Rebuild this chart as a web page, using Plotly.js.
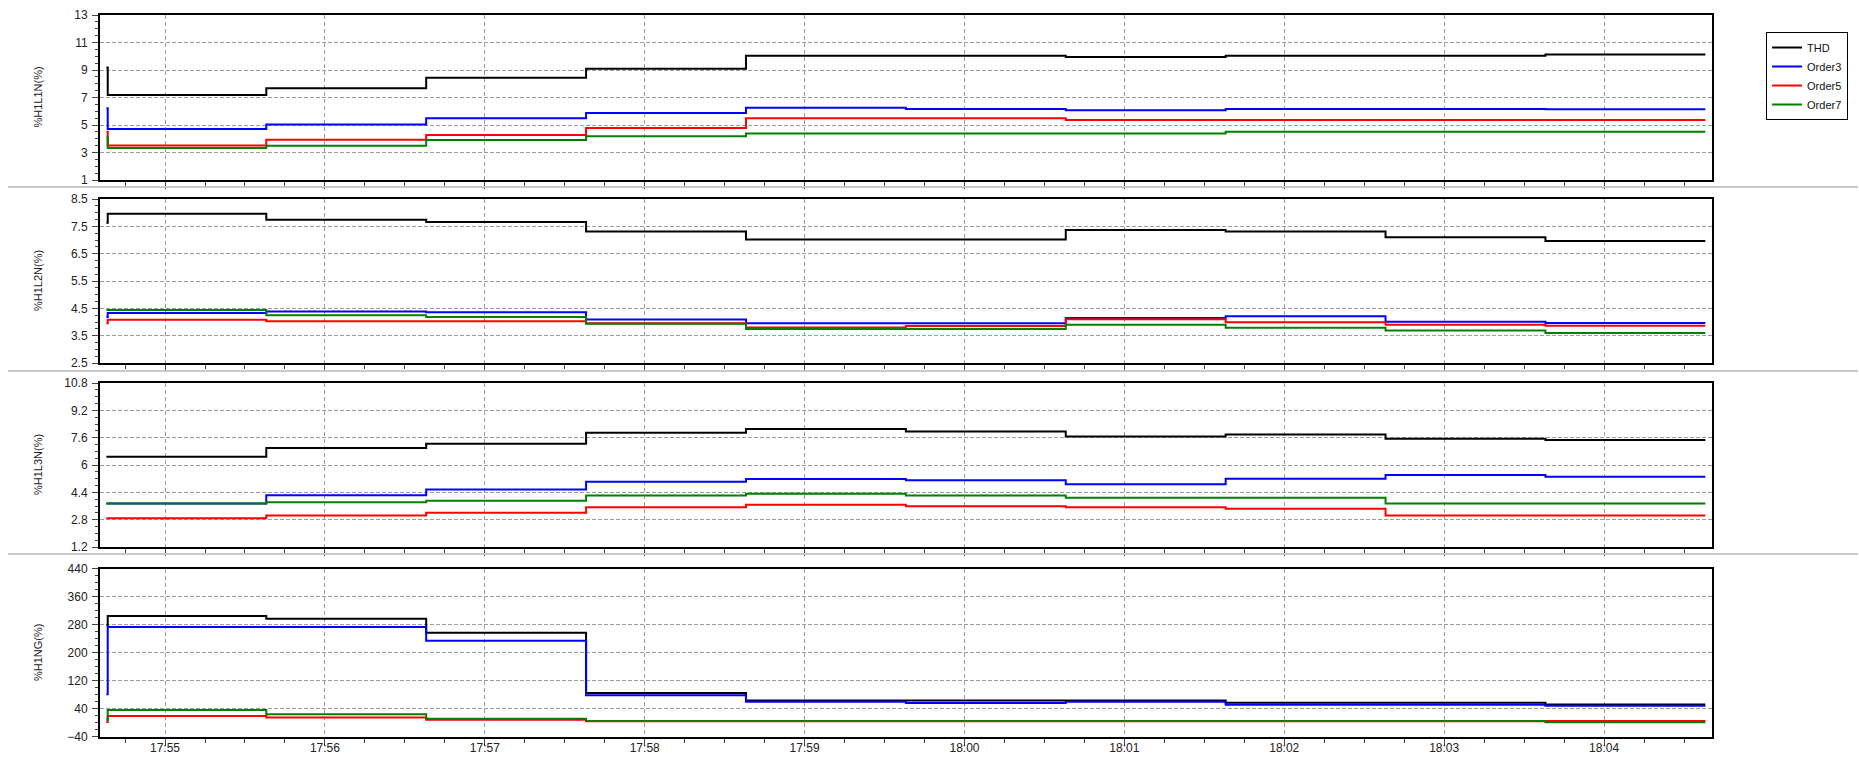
<!DOCTYPE html>
<html>
<head>
<meta charset="utf-8">
<script src="https://cdn.plot.ly/plotly-3.0.1.min.js"></script>
<style>html,body{margin:0;padding:0;background:#fff;}#chart{width:1859px;height:757px;}</style>
</head>
<body>
<div id="chart"></div>
<script>
// Sample timestamps (first two mark the initial jump at the start of the record)
const times = ['17:54:38', '17:54:38.5', '17:55:38', '17:56:38', '17:57:38', '17:58:38',
               '17:59:38', '18:00:38', '18:01:38', '18:02:38', '18:03:38', '18:04:38'];
const seriesNames = ['THD', 'Order3', 'Order5', 'Order7'];

// Panel 1: %H1L1N(%)
const l1nTHD    = [9.19, 7.18, 7.67, 8.44, 9.09, 10.03, 10.03, 9.94, 10.03, 10.03, 10.13, 10.13];
const l1nOrder3 = [6.22, 4.70, 5.03, 5.49, 5.88, 6.26, 6.17, 6.07, 6.17, 6.17, 6.14, 6.14];
const l1nOrder5 = [4.51, 3.51, 3.92, 4.28, 4.79, 5.49, 5.49, 5.37, 5.37, 5.37, 5.37, 5.37];
const l1nOrder7 = [4.10, 3.32, 3.49, 3.90, 4.19, 4.38, 4.38, 4.38, 4.50, 4.50, 4.50, 4.50];

// Panel 2: %H1L2N(%)
const l2nTHD    = [7.63, 7.96, 7.74, 7.66, 7.31, 7.02, 7.02, 7.37, 7.31, 7.10, 6.96, 6.96];
const l2nOrder3 = [4.18, 4.33, 4.38, 4.36, 4.09, 3.95, 3.95, 4.15, 4.21, 4.01, 3.96, 3.96];
const l2nOrder5 = [3.95, 4.08, 4.03, 4.03, 3.95, 3.80, 3.85, 4.10, 3.99, 3.90, 3.86, 3.86];
const l2nOrder7 = [4.44, 4.44, 4.25, 4.18, 3.94, 3.74, 3.74, 3.90, 3.79, 3.69, 3.60, 3.60];

// Panel 3: %H1L3N(%)
const l3nTHD    = [6.49, 6.49, 6.99, 7.25, 7.89, 8.10, 7.96, 7.67, 7.79, 7.54, 7.46, 7.46];
const l3nOrder3 = [3.75, 3.75, 4.23, 4.56, 5.02, 5.18, 5.10, 4.87, 5.20, 5.41, 5.31, 5.31];
const l3nOrder5 = [2.88, 2.88, 3.05, 3.21, 3.52, 3.67, 3.59, 3.53, 3.44, 3.05, 3.05, 3.05];
const l3nOrder7 = [3.75, 3.75, 3.82, 3.90, 4.21, 4.31, 4.21, 4.08, 4.08, 3.75, 3.75, 3.75];

// Panel 4: %H1NG(%)
const ngTHD    = [280, 306, 298, 258, 86, 64, 64, 64, 58, 58, 53, 53];
const ngOrder3 = [82, 274, 274, 235, 79, 61, 57, 61, 52, 52, 49, 49];
const ngOrder5 = [3, 20, 16, 9, 5, 5, 5, 5, 5, 5, 6, 6];
const ngOrder7 = [9, 37, 25, 12, 6, 6, 6, 6, 6, 6, 2, 2];

// Axis labels and tick settings
const panelTitles = ['%H1L1N(%)', '%H1L2N(%)', '%H1L3N(%)', '%H1NG(%)'];
const panelRanges = [[1, 13], [2.5, 8.5], [1.2, 10.8], [-40, 440]];
const panelDticks = [2, 1, 1.6, 80];
const panelMinor  = [0.5, 0.25, 0.4, 20];

const day = '2024-01-01 ';
const x = times.map(t => day + t);
const colors = ['#000000', '#0000ff', '#ff0000', '#008000'];
const panels = [
  [l1nTHD, l1nOrder3, l1nOrder5, l1nOrder7],
  [l2nTHD, l2nOrder3, l2nOrder5, l2nOrder7],
  [l3nTHD, l3nOrder3, l3nOrder5, l3nOrder7],
  [ngTHD, ngOrder3, ngOrder5, ngOrder7]
];

const traces = [];
panels.forEach((series, p) => {
  series.forEach((vals, s) => {
    traces.push({
      type: 'scatter', mode: 'lines',
      x: x, y: vals,
      name: seriesNames[s], legendgroup: seriesNames[s],
      showlegend: p === 0,
      line: {color: colors[s], width: 2, shape: 'hv'},
      xaxis: p === 0 ? 'x' : 'x' + (p + 1),
      yaxis: p === 0 ? 'y' : 'y' + (p + 1),
      hoverinfo: 'x+y+name'
    });
  });
});

// layout geometry (plot area 100..1713 x 15..737)
const domains = [[0.77147, 1.0], [0.51801, 0.74515], [0.26316, 0.49030], [0, 0.23269]];
const gridColor = '#9c9c9c';

const layout = {
  width: 1859, height: 757,
  margin: {l: 100, r: 146, t: 15, b: 20, pad: 0},
  paper_bgcolor: '#ffffff', plot_bgcolor: '#ffffff',
  font: {family: 'Arial, "Liberation Sans", sans-serif', size: 12, color: '#222222'},
  showlegend: true,
  legend: {
    x: 1.0329, y: 0.97645, xanchor: 'left', yanchor: 'top',
    bordercolor: '#000000', borderwidth: 1, bgcolor: '#ffffff',
    font: {size: 11, color: '#111111'}, tracegroupgap: 0
  },
  shapes: [0.76177, 0.50693, 0.25346].map(yy => ({
    type: 'line', xref: 'paper', yref: 'paper',
    x0: -0.05704, x1: 1.0905, y0: yy, y1: yy,
    line: {color: '#c8c8c8', width: 2}
  })),
  // y-axis titles, placed at the same x for every panel as in the source chart
  annotations: panelTitles.map((t, p) => ({
    text: t, textangle: -90, showarrow: false,
    xref: 'paper', yref: 'paper',
    x: -0.03844, y: (domains[p][0] + domains[p][1]) / 2,
    xanchor: 'center', yanchor: 'middle',
    font: {size: 11, color: '#222222'}
  }))
};

for (let p = 0; p < 4; p++) {
  const sfx = p === 0 ? '' : String(p + 1);
  layout['xaxis' + sfx] = {
    type: 'date',
    anchor: 'y' + sfx,
    matches: p === 0 ? undefined : 'x',
    range: [day + '17:54:35.6', day + '18:04:40.5'],
    tickformat: '%H:%M',
    tick0: day + '17:55:00', dtick: 60000,
    ticks: 'outside', ticklen: 7, tickcolor: '#444444', tickwidth: 1,
    ticklabelstandoff: -8,
    showticklabels: p === 3,
    tickfont: {size: 12, color: '#222222'},
    showgrid: true, gridcolor: gridColor, gridwidth: 1, griddash: '4px,3px',
    minor: {dtick: 15000, ticks: 'outside', ticklen: 4, tickcolor: '#444444', showgrid: false},
    showline: true, linecolor: '#000000', linewidth: 2, mirror: true,
    zeroline: false, automargin: false, fixedrange: true
  };
  layout['yaxis' + sfx] = {
    anchor: 'x' + sfx,
    domain: domains[p],
    range: panelRanges[p],
    tick0: panelRanges[p][0], dtick: panelDticks[p],
    ticks: 'outside', ticklen: 6, tickcolor: '#444444', tickwidth: 1,
    ticklabelstandoff: 2,
    tickfont: {size: 12, color: '#222222'},
    showgrid: true, gridcolor: gridColor, gridwidth: 1, griddash: '4px,2px',
    minor: {dtick: panelMinor[p], tick0: panelRanges[p][0], ticks: 'outside', ticklen: 3, tickcolor: '#444444', showgrid: false},
    showline: true, linecolor: '#000000', linewidth: 2, mirror: true,
    zeroline: false, automargin: false, fixedrange: true
  };
}

Plotly.newPlot('chart', traces, layout, {displayModeBar: false, staticPlot: false, responsive: false});
</script>
</body>
</html>
